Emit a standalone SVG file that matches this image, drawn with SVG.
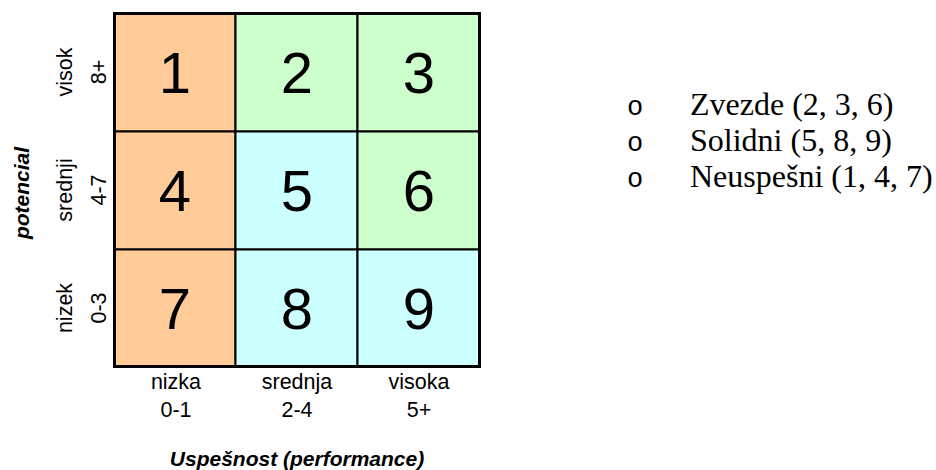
<svg xmlns="http://www.w3.org/2000/svg" width="936" height="470" viewBox="0 0 936 470">
<style>
.cell{stroke:#000;stroke-width:2}
.num{font-family:"Liberation Sans",Arial,sans-serif;font-size:58px;text-anchor:middle;fill:#000}
.lab{font-family:"Liberation Sans",Arial,sans-serif;font-size:21.5px;text-anchor:middle;fill:#000}
.axis{font-family:"Liberation Sans",Arial,sans-serif;font-size:21px;font-weight:bold;font-style:italic;text-anchor:middle;fill:#000}
.list{font-family:"Liberation Serif","Times New Roman",serif;font-size:32px;fill:#000}
.bul{font-family:"Liberation Mono","Courier New",monospace;font-size:27px;fill:#000}
.o{fill:#FFCC99}.g{fill:#CCFFCC}.c{fill:#CCFFFF}
</style>
<rect width="936" height="470" fill="#fff"/>
<g id="cell1"><rect class="cell o" x="114.5" y="13.5" width="121" height="118"/><text class="num" x="175" y="93">1</text></g>
<g id="cell2"><rect class="cell g" x="235.5" y="13.5" width="122" height="118"/><text class="num" x="297" y="93">2</text></g>
<g id="cell3"><rect class="cell g" x="357.5" y="13.5" width="122" height="118"/><text class="num" x="419" y="93">3</text></g>
<g id="cell4"><rect class="cell o" x="114.5" y="131.5" width="121" height="118"/><text class="num" x="175" y="211">4</text></g>
<g id="cell5"><rect class="cell c" x="235.5" y="131.5" width="122" height="118"/><text class="num" x="297" y="211">5</text></g>
<g id="cell6"><rect class="cell g" x="357.5" y="131.5" width="122" height="118"/><text class="num" x="419" y="211">6</text></g>
<g id="cell7"><rect class="cell o" x="114.5" y="249.5" width="121" height="117"/><text class="num" x="175" y="329">7</text></g>
<g id="cell8"><rect class="cell c" x="235.5" y="249.5" width="122" height="117"/><text class="num" x="297" y="329">8</text></g>
<g id="cell9"><rect class="cell c" x="357.5" y="249.5" width="122" height="117"/><text class="num" x="419" y="329">9</text></g>
<g id="border"><rect x="114.5" y="13.5" width="365" height="353" fill="none" stroke="#000" stroke-width="3"/></g>
<g id="rowlabels">
<text class="lab" transform="translate(72,72) rotate(-90)">visok</text>
<text class="lab" transform="translate(106,72) rotate(-90)">8+</text>
<text class="lab" transform="translate(72,190) rotate(-90)">srednji</text>
<text class="lab" transform="translate(106,190) rotate(-90)">4-7</text>
<text class="lab" transform="translate(72,308) rotate(-90)">nizek</text>
<text class="lab" transform="translate(106,308) rotate(-90)">0-3</text>
</g>
<g id="collabels">
<text class="lab" x="176" y="389">nizka</text>
<text class="lab" x="176" y="417">0-1</text>
<text class="lab" x="297" y="389">srednja</text>
<text class="lab" x="297" y="417">2-4</text>
<text class="lab" x="419" y="389">visoka</text>
<text class="lab" x="419" y="417">5+</text>
</g>
<g id="axes">
<text class="axis" transform="translate(29,193) rotate(-90)">potencial</text>
<text class="axis" x="297" y="466">Uspešnost (performance)</text>
</g>
<g id="legend">
<text class="bul" x="627" y="115">o</text><text class="list" x="690" y="115">Zvezde (2, 3, 6)</text>
<text class="bul" x="627" y="151">o</text><text class="list" x="690" y="151">Solidni (5, 8, 9)</text>
<text class="bul" x="627" y="187">o</text><text class="list" x="690" y="187">Neuspešni (1, 4, 7)</text>
</g>
<g id="connectors"/>
</svg>
